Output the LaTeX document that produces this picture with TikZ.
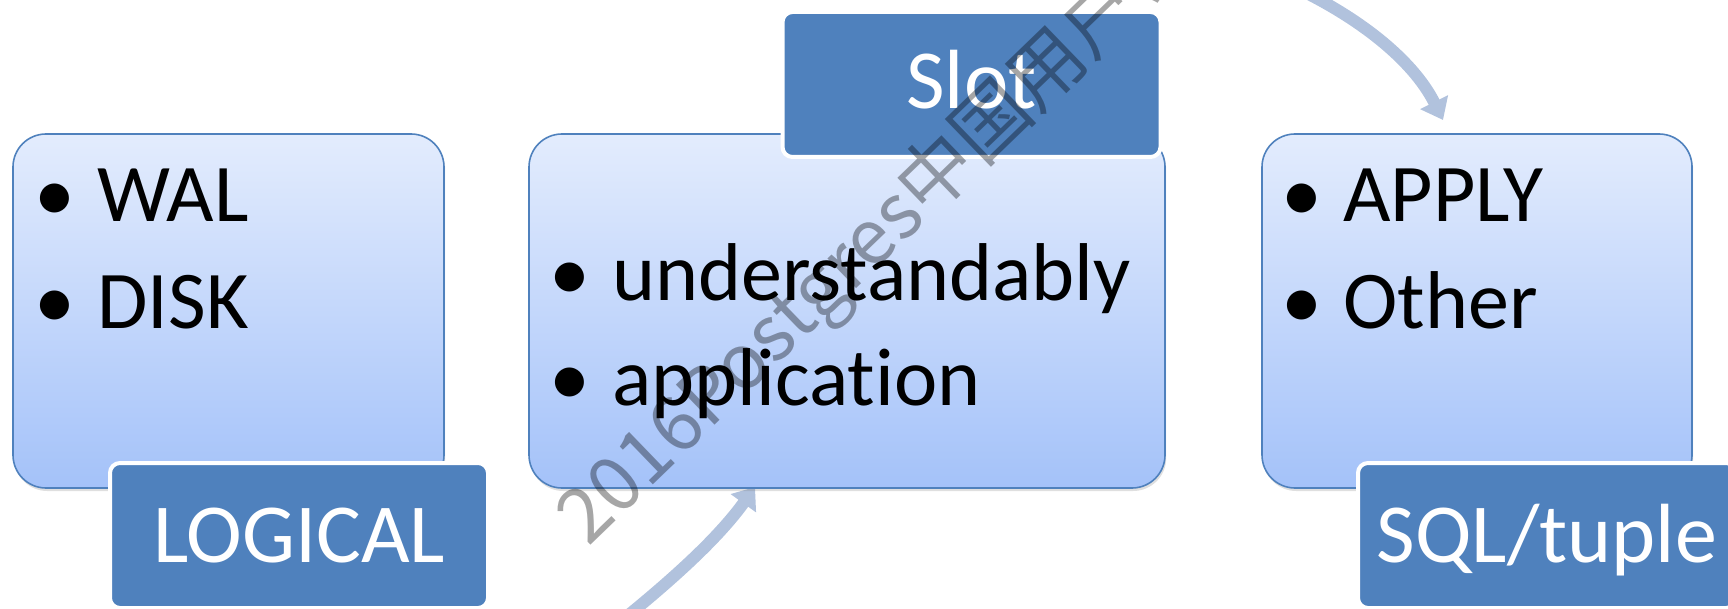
\documentclass[tikz,border=0pt]{standalone}
\usepackage{fontspec}
\setmainfont{Carlito}[Ligatures=NoCommon]
\newfontfamily\cjk{Noto Sans CJK SC}
\usetikzlibrary{arrows.meta,shadows}
\definecolor{boxtop}{RGB}{227,236,253}
\definecolor{boxbot}{RGB}{164,194,249}
\definecolor{boxline}{RGB}{79,129,189}
\definecolor{tabfill}{RGB}{79,129,189}
\definecolor{arrowcol}{RGB}{177,194,221}
\newcommand\bul{\llap{\makebox[0pt][c]{•}\hspace{21pt}}}
\begin{document}
\begin{tikzpicture}[x=0.5pt,y=-0.5pt,
  mainbox/.style={draw=boxline, line width=0.8pt, rounded corners=16.5pt,
    top color=boxtop, bottom color=boxbot,
    drop shadow={shadow xshift=0.6pt, shadow yshift=-1.5pt, opacity=0.25},
    minimum height=177pt, inner sep=0pt},
  tabbox/.style={draw=white, line width=2pt, fill=tabfill, rounded corners=5pt,
    minimum width=189pt, minimum height=72.5pt, inner sep=0pt, text=white,
    text height=27pt, text depth=0pt, font=\fontsize{42}{50}\selectfont},
  item/.style={anchor=base west, inner sep=0pt, font=\fontsize{41}{48}\selectfont},
  flow/.style={draw=arrowcol, line width=6pt, -{Triangle[length=10pt,width=15pt]}}]
\useasboundingbox (0,0) rectangle (1728,609);

% arrows
\coordinate (a1s) at (600,638);
\coordinate (a1e) at (755,487);
\coordinate (a2s) at (1290,-15);
\coordinate (a2e) at (1443,120);
\draw[flow] (a1s) .. controls (658,592) and (714,544) .. (a1e);
\draw[flow] (a2s) .. controls (1355,15) and (1412,58) .. (a2e);

% main boxes
\node[mainbox, minimum width=215.5pt] (b1) at (228.5,311) {};
\node[mainbox, minimum width=318pt] (b2) at (847,311) {};
\node[mainbox, minimum width=215pt] (b3) at (1477,311) {};

% tabs
\node[tabbox] (t1) at (299,535.5) {LOGICAL};
\node[tabbox, text height=24pt] (t2) at (971.5,84.5) {Slot};
\node[tabbox] (t3) at (1547,535.5) {SQL/tuple};

% items
\node[item] (i11) at (97,222) {\bul WAL};
\node[item] (i12) at (97,328) {\bul DISK};
\node[item] (i21) at (612,300) {\bul understandably};
\node[item] (i22) at (612,405) {\bul application};
\node[item] (i31) at (1343,222) {\bul APPLY};
\node[item] (i32) at (1343,328) {\bul Other};

% watermark
\node[rotate=44, anchor=base west, inner sep=0pt, text=black, opacity=0.35,
  font=\cjk\fontsize{38}{44}\selectfont] (wm) at (588,548) {2016Postgres中国用户会};
\end{tikzpicture}
\end{document}
